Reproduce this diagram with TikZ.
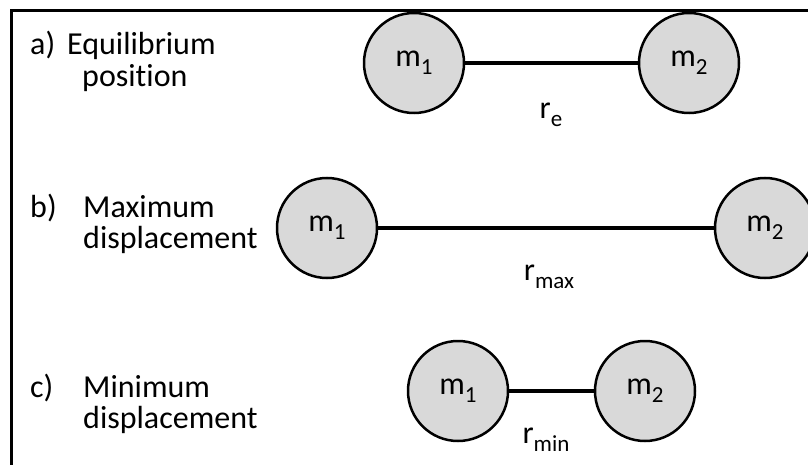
\documentclass[tikz,border=0pt]{standalone}
\usepackage{fontspec}
\setmainfont{Carlito}[Ligatures={NoCommon}]
\definecolor{massgray}{HTML}{D9D9D9}
\newcommand{\mysub}[1]{\raisebox{-0.25em}{\fontsize{23}{23}\selectfont #1}}
\begin{document}
\begin{tikzpicture}[x=1pt,y=-1pt,
  mass/.style={circle, draw=black, line width=2.5pt, fill=massgray, minimum size=100pt, inner sep=0pt, font=\fontsize{32}{32}\selectfont},
  bond/.style={line width=4pt},
  frameline/.style={line width=3pt},
  lbl/.style={anchor=base west, inner sep=0pt, font=\fontsize{32}{32}\selectfont},
  rlab/.style={inner sep=0pt, font=\fontsize{32}{32}\selectfont}]
\useasboundingbox (0,0) rectangle (808,465);
% frame (top and left)
\coordinate (fTR) at (808,11);
\coordinate (fTL) at (11,11);
\coordinate (fBL) at (11,465);
\draw[frameline] (fTR) -- (fTL) -- (fBL);
% text labels
\node[lbl] (ta1) at (30,55) {a)};
\node[lbl] (ta2) at (67,55) {Equilibrium};
\node[lbl] (ta3) at (82,87) {position};
\node[lbl] (tb1) at (30,217) {b)};
\node[lbl] (tb2) at (83,217) {Maximum};
\node[lbl] (tb3) at (83,248) {displacement};
\node[lbl] (tc1) at (30,397) {c)};
\node[lbl] (tc2) at (83,397) {Minimum};
\node[lbl] (tc3) at (83,428) {displacement};
% a) equilibrium
\node[mass] (a1) at (414,63) {m\mysub{1}};
\node[mass] (a2) at (689,63) {m\mysub{2}};
\draw[bond] (a1) -- (a2);
\node[rlab] (ra) at (551,115) {r\mysub{e}};
% b) maximum
\node[mass] (b1) at (327,228) {m\mysub{1}};
\node[mass] (b2) at (765,228) {m\mysub{2}};
\draw[bond] (b1) -- (b2);
\node[rlab] (rb) at (549,277) {r\mysub{max}};
% c) minimum
\node[mass] (c1) at (458,391) {m\mysub{1}};
\node[mass] (c2) at (645,391) {m\mysub{2}};
\draw[bond] (c1) -- (c2);
\node[rlab] (rc) at (546,440) {r\mysub{min}};
\end{tikzpicture}
\end{document}
